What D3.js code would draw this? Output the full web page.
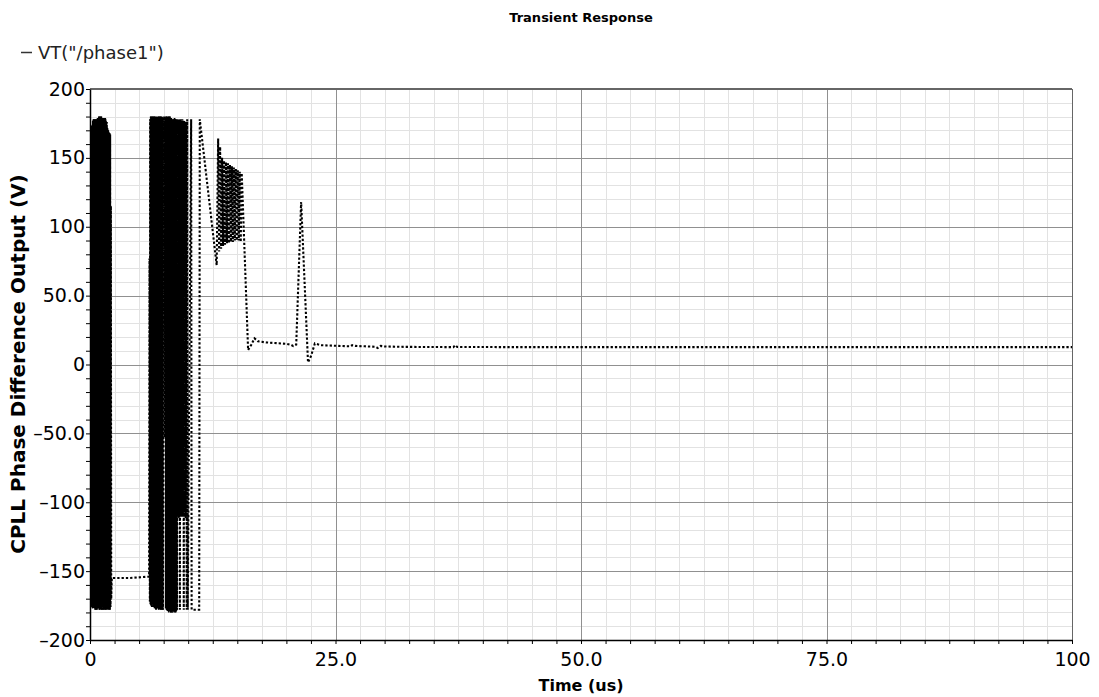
<!DOCTYPE html>
<html><head><meta charset="utf-8">
<script src="https://cdn.jsdelivr.net/npm/d3@7"></script>
<style>body{margin:0;background:#fff} text{font-family:"DejaVu Sans",sans-serif}</style>
</head><body><svg id="c" width="1099" height="697"></svg>
<script>
const title = "Transient Response";
const legendLabel = 'VT("/phase1")';
const xLabel = "Time (us)";
const yLabel = "CPLL Phase Difference Output (V)";
const xTicks = [0, 25, 50, 75, 100];
const xTickLabels = ["0", "25.0", "50.0", "75.0", "100"];
const yTicks = [200, 150, 100, 50, 0, -50, -100, -150, -200];
const yTickLabels = ["200", "150", "100", "50.0", "0", "\u201350.0", "\u2013100", "\u2013150", "\u2013200"];

// [time (us), value]
const burst1 = [[0,0],[0.02,172],[0.055,-174],[0.09,171],[0.125,-176],[0.16,173],[0.195,-175],[0.23,174],[0.265,-177],[0.30,177],[0.335,-176],[0.37,178],[0.405,-175],[0.44,178],[0.475,-177],[0.51,177],[0.545,-178],[0.58,178],[0.615,-176],[0.65,177],[0.685,-178],[0.72,178],[0.755,-177],[0.79,179],[0.825,-175],[0.86,179],[0.895,-177],[0.93,180],[0.965,-178],[1.0,180],[1.035,-176],[1.07,180],[1.105,-177],[1.14,180],[1.175,-178],[1.21,179],[1.245,-176],[1.28,179],[1.315,-178],[1.35,178],[1.385,-177],[1.42,179],[1.455,-178],[1.49,178],[1.525,-176],[1.56,179],[1.595,-178],[1.63,177],[1.665,-177],[1.70,176],[1.735,-178],[1.77,172],[1.805,-176],[1.84,170],[1.875,-178],[1.91,169],[1.945,-177],[1.98,168],[2.015,-178],[2.05,167],[2.085,-176],[2.12,115],[2.16,-170],[2.22,-155]];
const hold1 = [[2.3,-155],[4.0,-155],[6.02,-154]];
const burst2 = [[6.06,77],[6.095,-172],[6.13,178],[6.165,-174],[6.20,180],[6.235,-175],[6.27,179],[6.305,-176],[6.34,180],[6.375,-174],[6.41,180],[6.445,-176],[6.48,179],[6.515,-175],[6.55,180],[6.585,-177],[6.62,180],[6.655,-176],[6.69,179],[6.725,-178],[6.76,180],[6.795,-176],[6.83,180],[6.865,-177],[6.90,179],[6.935,-176],[6.97,180],[7.005,-178],[7.04,180],[7.075,-177],[7.11,179],[7.145,-176],[7.18,180],[7.215,-178],[7.25,179],[7.285,-177],[7.32,180],[7.355,-178],[7.39,179],[7.425,-178],[7.55,180],[7.62,-53],[7.70,179],[7.735,-177],[7.77,180],[7.805,-178],[7.84,180],[7.875,-179],[7.91,180],[7.945,-178],[7.98,179],[8.015,-180],[8.05,180],[8.085,-179],[8.12,180],[8.155,-178],[8.19,178],[8.225,-180],[8.26,179],[8.295,-179],[8.33,178],[8.365,-180],[8.40,178],[8.435,-179],[8.47,177],[8.505,-178],[8.54,178],[8.575,-180],[8.61,179],[8.645,-179],[8.68,178],[8.715,-180],[8.75,178],[8.785,-179],[8.82,177],[8.855,-178],[8.9,178],[8.95,-110],[9.0,178],[9.05,-112],[9.1,177],[9.15,-178],[9.2,178],[9.25,-110],[9.3,177],[9.35,-111],[9.4,178],[9.45,-110],[9.5,177],[9.55,-178],[9.6,177],[9.65,-110],[9.7,176],[9.75,-112],[9.8,176],[9.85,-178],[9.9,178],[9.95,-178],[10.3,178],[10.35,-178],[11.12,-178],[11.18,178]];
const decay = [[12.9,72],[13.05,164],[13.15,82],[13.25,158],[13.35,84],[13.45,150],[13.55,86],[13.65,148],[13.75,87],[13.85,147],[13.95,88],[14.05,146],[14.15,88],[14.25,145],[14.35,89],[14.45,144],[14.55,89],[14.65,143],[14.75,90],[14.85,142],[14.95,90],[15.05,141],[15.15,90],[15.25,140],[15.35,89],[15.45,139]];
const settle = [[16.1,10.5],[16.4,14],[16.75,19],[17.1,16.8],[18,16],[19,15.5],[20,15],[20.5,14.2],[20.7,13.4],[21.0,14.5],[21.5,118],[22.2,1.5],[22.5,6],[22.9,15.3],[23.5,14],[25,13.6],[26.5,13.2],[26.7,14],[27,13.5],[28,13.2],[29,12.9],[29.3,12],[29.6,13.5],[30,13.1],[32,12.8],[35,12.7],[37,12.6],[37.2,14],[37.4,12.7],[45,12.6],[60,12.6],[80,12.6],[100,12.6]];

const trace = [].concat(burst1, hold1, burst2, decay, settle);

const svg = d3.select("#c");
const L = 90, R = 1072, T = 89, B = 640;
const x = d3.scaleLinear().domain([0, 100]).range([L, R]);
const y = d3.scaleLinear().domain([-200, 200]).range([B, T]);

const xMinor = d3.range(0, 100.001, 2.5);
const yMinor = d3.range(-200, 200.001, 10);

const grid = svg.append("g");
grid.selectAll(".gxm").data(xMinor).enter().append("line")
  .attr("x1", d => Math.round(x(d)) + 0.5).attr("x2", d => Math.round(x(d)) + 0.5)
  .attr("y1", T).attr("y2", B).attr("stroke", "#e2e2e2").attr("stroke-width", 1);
grid.selectAll(".gym").data(yMinor).enter().append("line")
  .attr("y1", d => Math.round(y(d)) + 0.5).attr("y2", d => Math.round(y(d)) + 0.5)
  .attr("x1", L).attr("x2", R).attr("stroke", "#e2e2e2").attr("stroke-width", 1);
grid.selectAll(".gx").data(xTicks).enter().append("line")
  .attr("x1", d => Math.round(x(d)) + 0.5).attr("x2", d => Math.round(x(d)) + 0.5)
  .attr("y1", T).attr("y2", B).attr("stroke", "#909090").attr("stroke-width", 1);
grid.selectAll(".gy").data(yTicks).enter().append("line")
  .attr("y1", d => Math.round(y(d)) + 0.5).attr("y2", d => Math.round(y(d)) + 0.5)
  .attr("x1", L).attr("x2", R).attr("stroke", "#909090").attr("stroke-width", 1);

// frame top/right
svg.append("line").attr("x1", L).attr("x2", R).attr("y1", T).attr("y2", T).attr("stroke", "#666").attr("stroke-width", 2);
svg.append("line").attr("x1", R + 0.5).attr("x2", R + 0.5).attr("y1", T).attr("y2", B).attr("stroke", "#666").attr("stroke-width", 1);

svg.append("clipPath").attr("id", "clip").append("rect").attr("x", L).attr("y", T).attr("width", R - L).attr("height", B - T);

const line = d3.line().x(d => x(d[0])).y(d => y(d[1]));
// dense oscillation blocks render as solid black
const denseA = burst1.slice(1, burst1.length - 2);
const denseB = burst2.filter(d => d[0] >= 6.09 && d[0] <= 7.43);
const denseC = burst2.filter(d => d[0] >= 7.69 && d[0] <= 8.86);
[denseA, denseB, denseC].forEach(seg => {
  svg.append("path").datum(seg).attr("d", line).attr("clip-path", "url(#clip)")
    .attr("fill", "none").attr("stroke", "#000").attr("stroke-width", 1.3);
});
svg.append("path").datum(trace).attr("d", line).attr("clip-path", "url(#clip)")
  .attr("fill", "none").attr("stroke", "#000").attr("stroke-width", 2.1)
  .attr("stroke-dasharray", "2.3,2");

// axes
const xLab = new Map(xTicks.map((t, i) => [t, xTickLabels[i]]));
const yLab = new Map(yTicks.map((t, i) => [t, yTickLabels[i]]));
const xa = svg.append("g").attr("transform", `translate(0,${B})`)
  .call(d3.axisBottom(x).tickValues(xMinor).tickSize(4).tickSizeOuter(0)
    .tickFormat(d => xLab.has(d) ? xLab.get(d) : ""));
xa.select(".domain").attr("stroke", "#000").attr("stroke-width", 1.5);
xa.selectAll("text").attr("font-size", 19).attr("fill", "#000").attr("dy", "1.0em").attr("font-family", "DejaVu Sans");
const ya = svg.append("g").attr("transform", `translate(${L},0)`)
  .call(d3.axisLeft(y).tickValues(yMinor).tickSize(4).tickSizeOuter(0)
    .tickFormat(d => yLab.has(d) ? yLab.get(d) : ""));
ya.select(".domain").attr("stroke", "#000").attr("stroke-width", 1.5);
ya.selectAll("text").attr("font-size", 19).attr("fill", "#000").attr("x", -5).attr("font-family", "DejaVu Sans");

// titles
svg.append("text").attr("x", 581).attr("y", 22).attr("text-anchor", "middle")
  .attr("font-size", 13).attr("font-weight", "bold").text(title);
svg.append("text").attr("x", 581).attr("y", 691).attr("text-anchor", "middle")
  .attr("font-size", 16).attr("font-weight", "bold").text(xLabel);
svg.append("text").attr("transform", "translate(25,364) rotate(-90)").attr("text-anchor", "middle")
  .attr("font-size", 20).attr("font-weight", "bold").text(yLabel);

// legend
svg.append("line").attr("x1", 21).attr("x2", 32).attr("y1", 52.5).attr("y2", 52.5).attr("stroke", "#333").attr("stroke-width", 1.5);
svg.append("text").attr("x", 38).attr("y", 59).attr("font-size", 18).attr("fill", "#222").text(legendLabel);
</script></body></html>
